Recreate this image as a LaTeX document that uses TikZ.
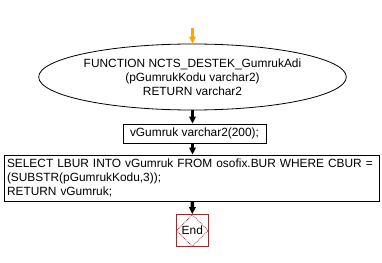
\documentclass[tikz,border=0pt]{standalone}
\usepackage{fontspec}
\setmainfont{Liberation Sans}
\usetikzlibrary{arrows.meta,shapes.geometric}

\definecolor{flowred}{RGB}{160,40,40}
\definecolor{flowor}{RGB}{255,165,0}

\begin{document}
\begin{tikzpicture}[x=1pt,y=-1pt,
        every node/.style={font=\fontsize{11.9}{14}\selectfont, inner sep=0pt},
        flow/.style={line width=3.5pt, -{Triangle[length=7pt,width=6.5pt]}},
        stmt/.style={draw, line width=0.8pt, rectangle}]
        \useasboundingbox (0,0) rectangle (382,262);

        \coordinate (start) at (192.5,28);
        \node [draw, line width=0.8pt, ellipse, minimum width=249pt, minimum height=66pt, align=center] (func) at (192.5,77)
            {FUNCTION NCTS\_DESTEK\_GumrukAdi\\(pGumrukKodu varchar2)\\RETURN varchar2};
        \node [stmt, minimum width=143pt, minimum height=19pt] (decl) at (194.5,133.5) {vGumruk varchar2(200);};
        \node [stmt, minimum width=375pt, minimum height=46pt, align=left, text width=369pt] (body) at (191.5,178)
            {SELECT LBUR INTO vGumruk FROM osofix.BUR WHERE CBUR =\\(SUBSTR(pGumrukKodu,3));\\RETURN vGumruk;};
        \node [draw=flowred, line width=0.8pt, rectangle, minimum size=32pt] (end) at (192.3,230.5) {};
        \node [draw=flowred, densely dotted, line width=0.8pt, diamond, minimum size=32pt] (enddia) at (end) {End};

        \draw [flow, flowor] (start) -- (func.north);
        \draw [flow] (func.south) -- (func.south |- decl.north);
        \draw [flow] (func.south |- decl.south) -- (func.south |- body.north);
        \draw [flow] (func.south |- body.south) -- (end.north);
\end{tikzpicture}
\end{document}
